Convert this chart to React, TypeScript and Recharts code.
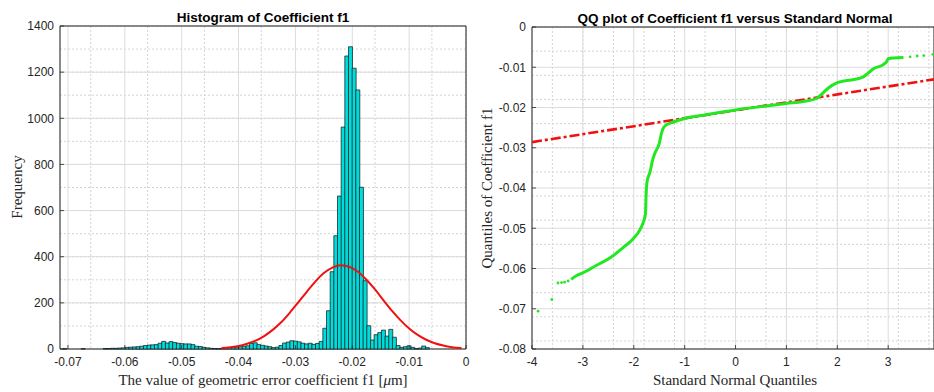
import React from 'react'
import { ComposedChart, Bar, Line, Scatter, XAxis, YAxis, CartesianGrid, ReferenceArea } from 'recharts'

// histogram of f1: 100 bins
const BIN_START = -0.0709
const BIN_WIDTH = 0.000644
const binCounts = [
  1, 0, 0, 0, 0, 1, 0, 0, 0, 0,
  0, 2, 2, 3, 3, 4, 5, 7, 8, 9,
  10, 12, 15, 17, 18, 19, 25, 33, 26, 32,
  28, 25, 23, 22, 22, 19, 12, 11, 7, 5,
  3, 2, 1, 2, 5, 6, 7, 8, 10, 12,
  14, 24, 27, 19, 16, 13, 10, 6, 8, 15,
  26, 30, 36, 34, 31, 25, 22, 25, 20, 24,
  33, 90, 166, 335, 491, 663, 962, 1270, 1310, 1217,
  1123, 701, 296, 101, 39, 62, 71, 82, 56, 85,
  51, 15, 7, 10, 14, 7, 1, 4, 13, 6,
]

// fitted normal curve
const fitX = [-0.043, -0.0415, -0.04, -0.0385, -0.037, -0.0355, -0.034, -0.0325, -0.031, -0.0295,
  -0.028, -0.0265, -0.025, -0.0235, -0.022, -0.0205, -0.019, -0.0175, -0.016, -0.0145,
  -0.013, -0.0115, -0.01, -0.0085, -0.007, -0.0055, -0.004, -0.0025, -0.0008]
const fitY = [4, 8, 13, 23, 36, 56, 83, 116, 157, 202, 248, 292, 329, 353, 363, 356, 335, 300, 258, 211,
  165, 124, 89, 61, 40, 25, 15, 8, 4]

const histTicksX = [-0.07, -0.06, -0.05, -0.04, -0.03, -0.02, -0.01, 0]
const histTicksY = [0, 200, 400, 600, 800, 1000, 1200, 1400]

// QQ plot
const qqX = [-3.23, -3.13, -3.0, -2.73, -2.47, -2.21, -2.01, -1.88, -1.81, -1.77, -1.76, -1.74, -1.68,
  -1.63, -1.59, -1.5, -1.45, -1.39, -1.22, -0.96, -0.63, 0, 0.68, 1.0, 1.33, 1.6, 1.7, 1.83, 1.99,
  2.19, 2.48, 2.61, 2.71, 2.91, 2.97, 3.0, 3.1, 3.3]
const qqY = [-0.0627, -0.0618, -0.0611, -0.0592, -0.0574, -0.0548, -0.0526, -0.0504, -0.0484, -0.0464,
  -0.0426, -0.0385, -0.036, -0.0331, -0.0315, -0.029, -0.0261, -0.0246, -0.0236, -0.0226, -0.0219,
  -0.0206, -0.0195, -0.019, -0.0185, -0.0177, -0.0166, -0.0151, -0.0139, -0.0133, -0.0126, -0.0114,
  -0.0104, -0.0093, -0.0086, -0.0079, -0.0077, -0.0076]
const qqSparseX = [-3.88, -3.61, -3.49, -3.42, -3.36, -3.29, 3.43, 3.57, 3.7, 3.88]
const qqSparseY = [-0.0706, -0.0677, -0.0636, -0.0635, -0.0634, -0.0631, -0.0074, -0.0072, -0.0071, -0.0068]
const refX = [-4, 3.9]
const refY = [-0.0286, -0.013]

const qqTicksX = [-4, -3, -2, -1, 0, 1, 2, 3]
const qqTicksY = [0, -0.01, -0.02, -0.03, -0.04, -0.05, -0.06, -0.07, -0.08]

const steps = (a: number, b: number, s: number) => {
  const out: number[] = []
  for (let i = 0; a + i * s <= b + s / 1000; i++) out.push(+(a + i * s).toFixed(6))
  return out
}

const histData = binCounts.map((c, i) => ({ x: BIN_START + (i + 0.5) * BIN_WIDTH, count: c }))
const fitData = fitX.map((x, i) => ({ x, count: fitY[i] }))
const qqData = qqX.map((x, i) => ({ x, y: qqY[i] }))
const qqSparse = qqSparseX.map((x, i) => ({ x, y: qqSparseY[i] }))
const refData = refX.map((x, i) => ({ x, y: refY[i] }))

const AXIS = '#262626'
const SANS = '"Liberation Sans", Arial, sans-serif'
const SERIF = '"Liberation Serif", "Times New Roman", serif'
const HIST_X_DOMAIN: [number, number] = [-0.0714, 0]
const HIST_MARGIN = { top: 26, right: 4, bottom: 13, left: 0 }

const BottomTick = (fmt: (v: number) => string) => (p: any) => (
  <g>
    <line x1={p.x} x2={p.x} y1={p.y - 8} y2={p.y - 12} stroke={AXIS} strokeWidth={0.8} />
    <text x={p.x} y={p.y} dy="0.72em" textAnchor="middle" fill={AXIS} fontSize={12} fontFamily={SANS}>
      {fmt(p.payload.value)}
    </text>
  </g>
)

const LeftTick = (fmt: (v: number) => string) => (p: any) => (
  <g>
    <line x1={p.x + 6} x2={p.x + 10} y1={p.y} y2={p.y} stroke={AXIS} strokeWidth={0.8} />
    <text x={p.x} y={p.y} dy="0.36em" textAnchor="end" fill={AXIS} fontSize={12} fontFamily={SANS}>
      {fmt(p.payload.value)}
    </text>
  </g>
)

const fmt2 = (v: number) => (v === 0 ? '0' : v.toFixed(2))
const fmtInt = (v: number) => String(v)

function Txt({ cx, cy, rot, style, children }: any) {
  return (
    <div
      style={{
        position: 'absolute', left: cx, top: cy, whiteSpace: 'nowrap', lineHeight: 1,
        transform: `translate(-50%, -50%)${rot ? ' rotate(-90deg)' : ''}`, ...style,
      }}
    >
      {children}
    </div>
  )
}

const titleStyle = { font: `bold 13.5px ${SANS}`, color: '#000' }
const labelStyle = { font: `15px ${SERIF}`, color: AXIS }

function Histogram() {
  return (
    <ComposedChart width={470} height={392} data={histData} margin={HIST_MARGIN}
      barCategoryGap={0} barGap={0}>
      <CartesianGrid verticalValues={steps(-0.07, 0, 0.002)} horizontalValues={steps(0, 1400, 50)}
        stroke="#d4d4d4" strokeDasharray="2 2" />
      <CartesianGrid stroke="#dcdcdc" />
      <XAxis dataKey="x" type="number" domain={HIST_X_DOMAIN} ticks={histTicksX} allowDataOverflow
        height={30} tickSize={0} tickMargin={8} axisLine={false} tick={BottomTick(fmt2)} />
      <YAxis type="number" domain={[0, 1400]} ticks={histTicksY} width={60} tickSize={0} tickMargin={6}
        axisLine={false} tick={LeftTick(fmtInt)} />
      <Bar dataKey="count" fill="#00dcdc" stroke="#111" strokeWidth={0.7} isAnimationActive={false} />
      <ReferenceArea x1={HIST_X_DOMAIN[0]} x2={0} y1={0} y2={1400} fill="none" stroke={AXIS} strokeWidth={1} />
    </ComposedChart>
  )
}

// normal fit drawn on an overlay with identical axes, so the bars keep their bin width
function HistFit() {
  return (
    <ComposedChart width={470} height={392} data={fitData} margin={HIST_MARGIN}>
      <XAxis dataKey="x" type="number" domain={HIST_X_DOMAIN} allowDataOverflow height={30}
        tick={false} tickLine={false} axisLine={false} />
      <YAxis type="number" domain={[0, 1400]} width={60} tick={false} tickLine={false} axisLine={false} />
      <Line dataKey="count" type="monotone" stroke="#f01010" strokeWidth={2} dot={false} isAnimationActive={false} />
    </ComposedChart>
  )
}

function QQPlot() {
  return (
    <ComposedChart width={464} height={392} margin={{ top: 27, right: 0, bottom: 13, left: 0 }}>
      <CartesianGrid verticalValues={steps(-4, 3.8, 0.2)} horizontalValues={steps(-0.08, 0, 0.002)}
        stroke="#d4d4d4" strokeDasharray="2 2" />
      <CartesianGrid stroke="#dcdcdc" />
      <XAxis dataKey="x" type="number" domain={[-4, 3.9]} ticks={qqTicksX} allowDataOverflow
        height={30} tickSize={0} tickMargin={8} axisLine={false} tick={BottomTick(fmtInt)} />
      <YAxis dataKey="y" type="number" domain={[-0.08, 0]} ticks={qqTicksY} width={62} tickSize={0} tickMargin={6}
        axisLine={false} tick={LeftTick(fmt2)} allowDataOverflow />
      <Line data={refData} dataKey="y" type="linear" stroke="#f01010" strokeWidth={2.6}
        strokeDasharray="10 3 3 3" dot={false} isAnimationActive={false} />
      <Line data={qqData} dataKey="y" type="monotone" stroke="#22e822" strokeWidth={3} dot={false}
        isAnimationActive={false} />
      <Scatter data={qqSparse} dataKey="y" fill="#22e822" shape={(p: any) => <circle cx={p.cx} cy={p.cy} r={1.4} fill="#22e822" />}
        isAnimationActive={false} />
      <ReferenceArea x1={-4} x2={3.9} y1={-0.08} y2={0} fill="none" stroke={AXIS} strokeWidth={1} />
    </ComposedChart>
  )
}

export default function App() {
  return (
    <div style={{ position: 'absolute', left: 0, top: 0, width: 934, height: 392, background: '#fff', overflow: 'hidden' }}>
      <div style={{ position: 'absolute', left: 0, top: 0 }}>
        <Histogram />
      </div>
      <div style={{ position: 'absolute', left: 0, top: 0 }}>
        <HistFit />
      </div>
      <div style={{ position: 'absolute', left: 470, top: 0 }}>
        <QQPlot />
      </div>
      <Txt cx={263} cy={17} style={titleStyle}>Histogram of Coefficient f1</Txt>
      <Txt cx={263} cy={380} style={labelStyle}>
        The value of geometric error coefficient f1 [<i>μ</i>m]
      </Txt>
      <Txt cx={17} cy={187} rot style={labelStyle}>Frequency</Txt>
      <Txt cx={735} cy={18} style={titleStyle}>QQ plot of Coefficient f1 versus Standard Normal</Txt>
      <Txt cx={735} cy={380} style={labelStyle}>Standard Normal Quantiles</Txt>
      <Txt cx={487} cy={188} rot style={labelStyle}>Quantiles of Coefficient f1</Txt>
    </div>
  )
}
